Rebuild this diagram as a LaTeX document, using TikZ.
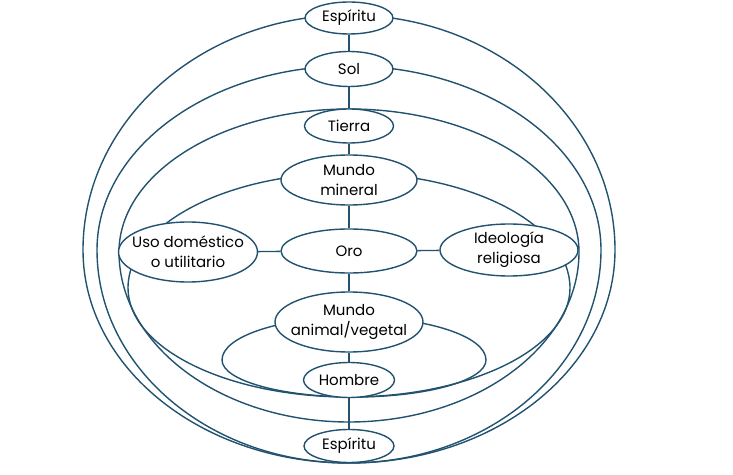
\documentclass[tikz,border=0pt]{standalone}
\usepackage{fontspec}
\setmainfont{Poppins}
\usetikzlibrary{shapes.geometric}
\definecolor{ln}{RGB}{33,82,112}
\begin{document}
\begin{tikzpicture}[x=1pt,y=1pt,
  loopline/.style={draw=ln, line width=1.4pt},
  conn/.style={draw=ln, line width=1.4pt},
  ell/.style={ellipse, draw=ln, line width=1.4pt, fill=white, inner sep=0pt},
  lbl/.style={align=center, font=\fontsize{15}{20}\selectfont, text=black, inner sep=0pt}]
\useasboundingbox (0,0) rectangle (733,474);
% loops
\draw[loopline] (83,224) arc[start angle=180,end angle=0,x radius=266,y radius=235]
  arc[start angle=0,end angle=-180,x radius=266,y radius=213] -- cycle;
\draw[loopline] (97,224) arc[start angle=180,end angle=0,x radius=252,y radius=184]
  arc[start angle=0,end angle=-180,x radius=252,y radius=213] -- cycle;
\draw[loopline] (119,222) arc[start angle=180,end angle=0,x radius=230,y radius=143]
  arc[start angle=0,end angle=-180,x radius=230,y radius=170] -- cycle;
\draw[loopline] (128,186) arc[start angle=180,end angle=0,x radius=221,y radius=115]
  arc[start angle=0,end angle=-180,x radius=221,y radius=109] -- cycle;
\draw[loopline] (222,114) arc[start angle=180,end angle=0,x radius=132,y radius=43]
  arc[start angle=0,end angle=-180,x radius=132,y radius=37] -- cycle;
% nodes
\node[ell, minimum width=88pt, minimum height=32pt, label={[lbl]center:Espíritu}] (esp1) at (349,456) {};
\node[ell, minimum width=88pt, minimum height=35pt, label={[lbl]center:Sol}] (sol) at (349,405) {};
\node[ell, minimum width=89pt, minimum height=34pt, label={[lbl]center:Tierra}] (tierra) at (349,348) {};
\node[ell, minimum width=136pt, minimum height=50pt, label={[lbl]center:Mundo\\mineral}] (mineral) at (349,294) {};
\node[ell, minimum width=136pt, minimum height=44pt, label={[lbl]center:Oro}] (oro) at (349,223) {};
\node[ell, minimum width=139pt, minimum height=60pt, label={[lbl]center:Uso doméstico\\o utilitario}] (uso) at (188,222) {};
\node[ell, minimum width=138pt, minimum height=52pt, label={[lbl]center:Ideología\\religiosa}] (ideo) at (509,224) {};
\node[ell, minimum width=148pt, minimum height=60pt, label={[lbl]center:Mundo\\animal/vegetal}] (animal) at (349,152) {};
\node[ell, minimum width=91pt, minimum height=35pt, label={[lbl]center:Hombre}] (hombre) at (349,94) {};
\node[ell, minimum width=90pt, minimum height=33pt, label={[lbl]center:Espíritu}] (esp2) at (349,28) {};
% connectors
\draw[conn] (esp1) -- (sol);
\draw[conn] (sol) -- (tierra);
\draw[conn] (tierra) -- (mineral);
\draw[conn] (mineral) -- (oro);
\draw[conn] (oro) -- (animal);
\draw[conn] (animal) -- (hombre);
\draw[conn] (hombre) -- (esp2);
\draw[conn] (uso) -- (oro);
\draw[conn] (oro) -- (ideo);
\end{tikzpicture}
\end{document}
